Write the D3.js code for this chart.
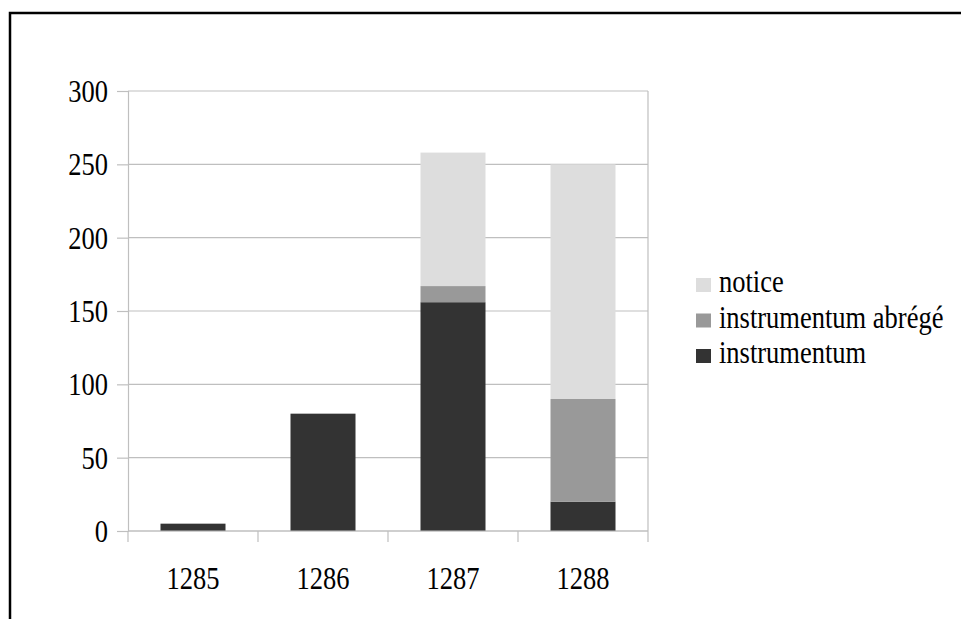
<!DOCTYPE html>
<html>
<head>
<meta charset="utf-8">
<script src="https://cdn.jsdelivr.net/npm/d3@7"></script>
<style>
  body { margin: 0; background: #fff; }
  svg text { font-family: "Liberation Serif", "Times New Roman", "DejaVu Serif", serif; fill: #000; }
</style>
</head>
<body>
<script>
const years = ["1285", "1286", "1287", "1288"]
const instrumentum = [5, 80, 156, 20]
const abrege = [0, 0, 11, 70]
const notice = [0, 0, 91, 160]
const seriesNames = ["instrumentum", "instrumentum abrégé", "notice"]
const yTicks = [0, 50, 100, 150, 200, 250, 300]

const colors = ["#333333", "#999999", "#dddddd"]
// text in the original is a bit tall and narrow
const fontSize = "31px"
const squeeze = 0.855

const W = 961, H = 619
const margin = {top: 91, left: 128}
const width = 520, height = 440

const svg = d3.select("body").append("svg")
  .attr("width", W)
  .attr("height", H)

// outer frame (only top and left visible)
svg.append("path")
  .attr("d", `M10,${H} L10,13 L${W},13`)
  .attr("fill", "none")
  .attr("stroke", "#000")
  .attr("stroke-width", 2.5)

const g = svg.append("g")
  .attr("transform", `translate(${margin.left},${margin.top})`)

const x = d3.scaleBand().domain(years).range([0, width]).paddingInner(0.5).paddingOuter(0.25)
const xBand = d3.scaleBand().domain(years).range([0, width])
const y = d3.scaleLinear().domain([0, 300]).range([height, 0])

// gridlines
g.append("g")
  .selectAll("line")
  .data(yTicks)
  .join("line")
  .attr("x1", 0)
  .attr("x2", width)
  .attr("y1", d => y(d))
  .attr("y2", d => y(d))
  .attr("stroke", "#bfbfbf")
  .attr("stroke-width", 1.2)

// right border of plot
g.append("line")
  .attr("x1", width).attr("x2", width)
  .attr("y1", 0).attr("y2", height)
  .attr("stroke", "#bfbfbf")
  .attr("stroke-width", 1.2)

// stacked bars
const table = years.map((yr, i) => ({
  year: yr,
  "instrumentum": instrumentum[i],
  "instrumentum abrégé": abrege[i],
  "notice": notice[i]
}))
const stack = d3.stack().keys(seriesNames)(table)

g.selectAll(".layer")
  .data(stack)
  .join("g")
  .attr("fill", (d, i) => colors[i])
  .selectAll("rect")
  .data(d => d)
  .join("rect")
  .attr("x", d => x(d.data.year))
  .attr("width", x.bandwidth())
  .attr("y", d => y(d[1]))
  .attr("height", d => y(d[0]) - y(d[1]))

// y axis
const yAxis = g.append("g")
  .call(d3.axisLeft(y).tickValues(yTicks).tickSize(11).tickPadding(8))
yAxis.select(".domain").attr("stroke", "#bfbfbf").attr("stroke-width", 1.2)
yAxis.selectAll(".tick line").attr("stroke", "#bfbfbf").attr("stroke-width", 1.2)
yAxis.selectAll("text")
  .attr("x", 0)
  .attr("dy", "0.34em")
  .attr("transform", `translate(-20,0) scale(${squeeze},1)`)
  .style("font-size", fontSize)

// x axis: ticks at category boundaries
const xAxis = g.append("g").attr("transform", `translate(0,${height})`)
xAxis.append("line")
  .attr("x1", 0).attr("x2", width)
  .attr("stroke", "#bfbfbf").attr("stroke-width", 1.2)
xAxis.selectAll(".xt")
  .data([0, 1, 2, 3, 4])
  .join("line")
  .attr("x1", d => d * xBand.bandwidth())
  .attr("x2", d => d * xBand.bandwidth())
  .attr("y1", 0).attr("y2", 11)
  .attr("stroke", "#bfbfbf").attr("stroke-width", 1.2)
xAxis.selectAll("text")
  .data(years)
  .join("text")
  .attr("transform", d => `translate(${xBand(d) + xBand.bandwidth() / 2},58) scale(${squeeze},1)`)
  .attr("text-anchor", "middle")
  .style("font-size", fontSize)
  .text(d => d)

// legend
const legendItems = ["notice", "instrumentum abrégé", "instrumentum"]
const legendColors = ["#dddddd", "#999999", "#333333"]
const legend = svg.append("g").attr("transform", "translate(696,278)")
legend.selectAll("rect")
  .data(legendItems)
  .join("rect")
  .attr("x", 0)
  .attr("y", (d, i) => i * 35.5)
  .attr("width", 15)
  .attr("height", 14)
  .attr("fill", (d, i) => legendColors[i])
legend.selectAll("text")
  .data(legendItems)
  .join("text")
  .attr("transform", (d, i) => `translate(23,${i * 35.5 + 14}) scale(${squeeze},1)`)
  .style("font-size", fontSize)
  .text(d => d)
</script>
</body>
</html>
